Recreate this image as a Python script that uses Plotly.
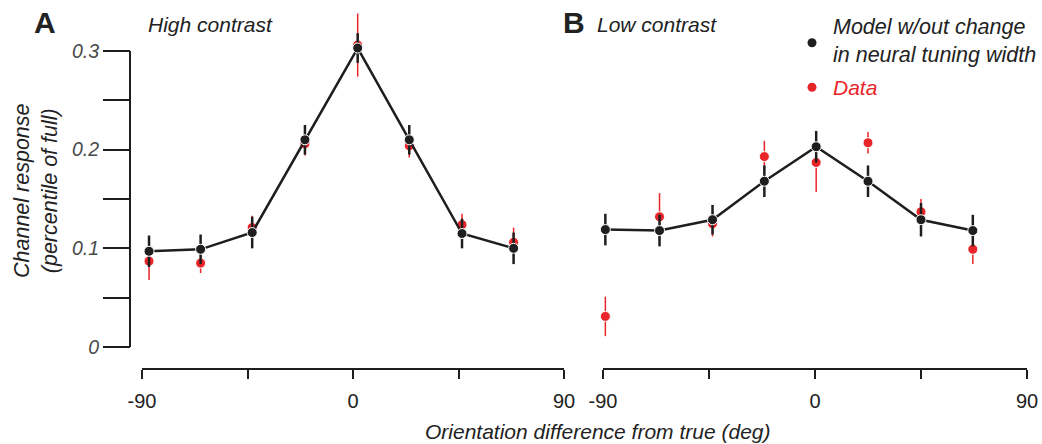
import plotly.graph_objects as go

# ---------------- data ----------------
x_high = [-87, -65, -43, -20.5, 2, 24, 46.5, 68.5]
model_high = [0.097, 0.099, 0.116, 0.210, 0.303, 0.210, 0.115, 0.100]
model_high_err = [0.016, 0.015, 0.016, 0.015, 0.015, 0.015, 0.015, 0.016]
data_high = [0.087, 0.085, 0.121, 0.206, 0.306, 0.204, 0.124, 0.106]
data_high_err = [0.019, 0.010, 0.012, 0.012, 0.032, 0.012, 0.011, 0.015]

x_low = [-89, -66, -43.5, -21.5, 0.5, 22.5, 45, 67]
model_low = [0.119, 0.118, 0.129, 0.168, 0.203, 0.168, 0.129, 0.118]
model_low_err = [0.016, 0.016, 0.015, 0.016, 0.016, 0.016, 0.017, 0.016]
data_low = [0.031, 0.132, 0.125, 0.193, 0.187, 0.207, 0.137, 0.099]
data_low_err = [0.020, 0.024, 0.013, 0.016, 0.030, 0.011, 0.013, 0.015]

x_tickvals = [-90, -45, 0, 45, 90]
x_ticktext = ["-90", "", "0", "", "90"]
y_tickvals = [0, 0.05, 0.1, 0.15, 0.2, 0.25, 0.3]
y_ticktext = ["0", "", "0.1", "", "0.2", "", "0.3"]

# ---------------- styling ----------------
W, H = 1042, 444
FONT = "Liberation Sans"
BLACK = "#1e1e1e"
RED = "#e8262a"
TXT = "#222222"


def px(x):
    return x / W


def py(y):
    return 1 - y / H


# y range: 0 at 347px, 0.3 at 51px
ppu = (347 - 51) / 0.3
y_top_px, y_bot_px = 10, 360
y_range = [(347 - y_bot_px) / ppu, (347 - y_top_px) / ppu]

fig = go.Figure()


def add_panel(xs, model, model_err, data, data_err, xa):
    fig.add_trace(go.Scatter(
        x=xs, y=data, xaxis=xa, yaxis="y", mode="markers",
        marker=dict(color=RED, size=10, line=dict(color="white", width=1)),
        error_y=dict(type="data", array=data_err, color=RED, thickness=1.5, width=0),
        cliponaxis=False, showlegend=False))
    fig.add_trace(go.Scatter(
        x=xs, y=model, xaxis=xa, yaxis="y", mode="lines+markers",
        line=dict(color=BLACK, width=2.5),
        marker=dict(color=BLACK, size=10, line=dict(color="white", width=1)),
        error_y=dict(type="data", array=model_err, color=BLACK, thickness=2.5, width=0),
        cliponaxis=False, showlegend=False))


add_panel(x_high, model_high, model_high_err, data_high, data_high_err, "x")
add_panel(x_low, model_low, model_low_err, data_low, data_low_err, "x2")

xaxis_common = dict(
    range=[-90, 90], tickvals=x_tickvals, ticktext=x_ticktext,
    showline=True, linecolor=BLACK, linewidth=2,
    ticks="outside", ticklen=9, tickwidth=2, tickcolor=BLACK,
    showgrid=False, zeroline=False, anchor="free", position=py(369),
    automargin=False, fixedrange=True, ticklabelstandoff=5,
    tickfont=dict(family=FONT, size=20, color=TXT),
)

fig.update_layout(
    width=W, height=H,
    margin=dict(l=0, r=0, t=0, b=0, pad=0),
    paper_bgcolor="white", plot_bgcolor="rgba(0,0,0,0)",
    xaxis=dict(domain=[px(142), px(564)], **xaxis_common),
    xaxis2=dict(domain=[px(603), px(1027)], **xaxis_common),
    yaxis=dict(
        domain=[py(y_bot_px), py(y_top_px)], range=y_range,
        anchor="free", position=px(130), side="left",
        tickvals=y_tickvals, ticktext=y_ticktext,
        ticks="outside", ticklen=27, tickwidth=2, tickcolor=BLACK,
        showline=False, showgrid=False, zeroline=False,
        automargin=False, fixedrange=True,
        tickfont=dict(family=FONT, size=19.5, color="#4a4a4a", style="italic"),
    ),
    showlegend=False,
)

# y axis line from 0 to 0.3
fig.add_shape(type="line", xref="paper", yref="y", x0=px(130), x1=px(130),
              y0=0, y1=0.3, line=dict(color=BLACK, width=2))

# legend dots
for cy, col in [(42.7, BLACK), (87.3, RED)]:
    fig.add_shape(type="circle", xref="paper", yref="paper",
                  x0=px(812 - 4.5), x1=px(812 + 4.5), y0=py(cy + 4.5), y1=py(cy - 4.5),
                  fillcolor=col, line=dict(color=col, width=0))

annotations = [
    dict(text="<b>A</b>", x=px(32), y=py(22), xanchor="left", yanchor="middle",
         font=dict(family=FONT, size=30, color=TXT)),
    dict(text="High contrast", x=px(146), y=py(25), xanchor="left", yanchor="middle",
         font=dict(family=FONT, size=21, color=TXT, style="italic")),
    dict(text="<b>B</b>", x=px(561), y=py(22), xanchor="left", yanchor="middle",
         font=dict(family=FONT, size=30, color=TXT)),
    dict(text="Low contrast", x=px(595), y=py(25), xanchor="left", yanchor="middle",
         font=dict(family=FONT, size=21, color=TXT, style="italic")),
    dict(text="Model w/out change<br>in neural tuning width", x=px(831), y=py(40.5),
         xanchor="left", yanchor="middle", align="left",
         font=dict(family=FONT, size=21.5, color=TXT, style="italic")),
    dict(text="Data", x=px(831), y=py(87), xanchor="left", yanchor="middle",
         font=dict(family=FONT, size=21, color=RED, style="italic")),
    dict(text="Channel response<br>(percentile of full)", x=px(36), y=py(191),
         xanchor="center", yanchor="middle", textangle=-90,
         font=dict(family=FONT, size=21.5, color=TXT, style="italic")),
    dict(text="Orientation difference from true (deg)", x=px(598), y=py(431),
         xanchor="center", yanchor="middle",
         font=dict(family=FONT, size=21, color=TXT, style="italic")),
]
for a in annotations:
    a.update(xref="paper", yref="paper", showarrow=False)
fig.update_layout(annotations=annotations)

fig.write_html("out.html", config={"displayModeBar": False},
               post_script="document.body.style.margin='0';")
